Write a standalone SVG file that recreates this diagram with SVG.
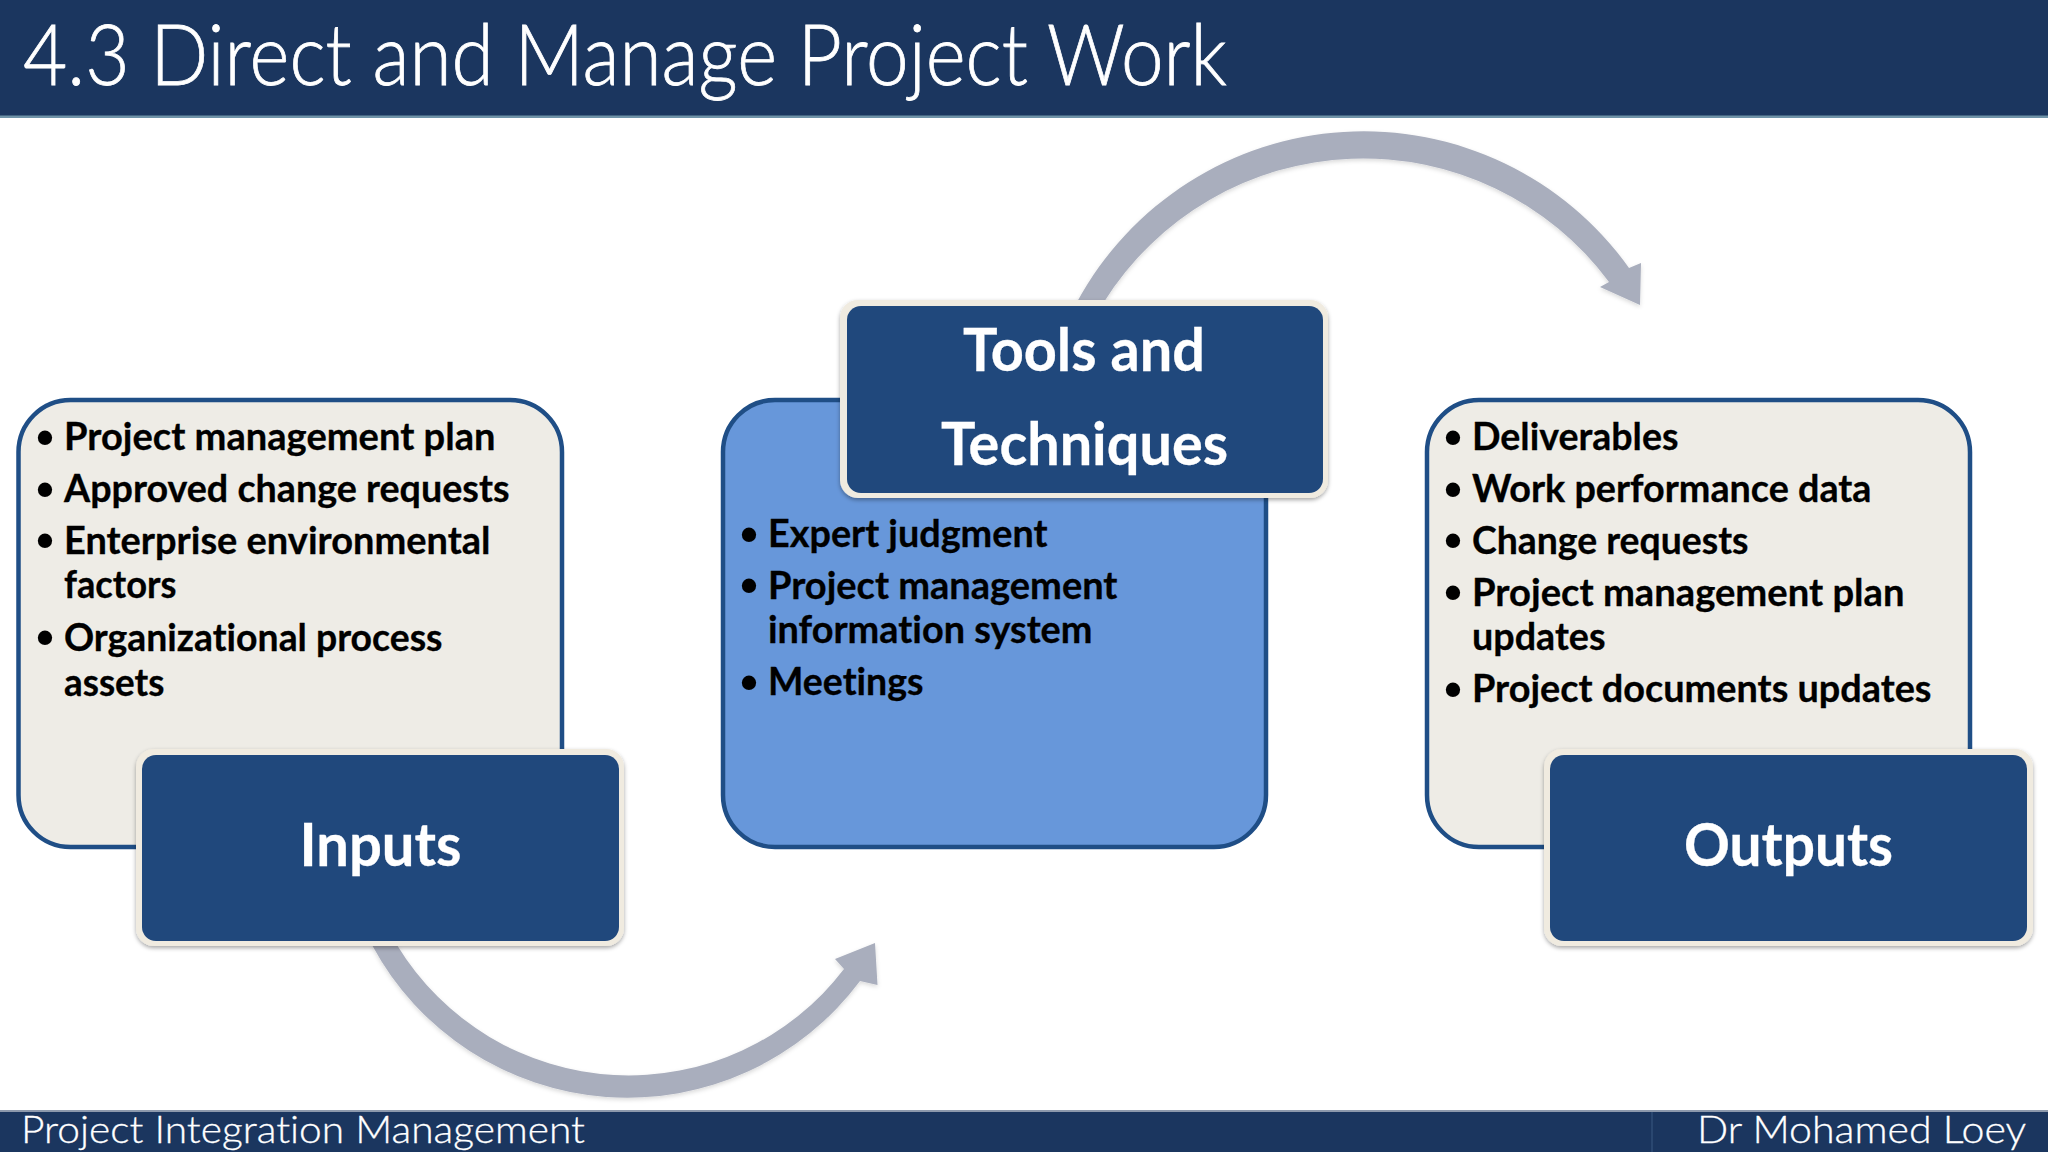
<svg xmlns="http://www.w3.org/2000/svg" width="2048" height="1152" viewBox="0 0 2048 1152">
<style>
text{font-family:"Lato","Carlito","Open Sans",sans-serif;font-variant-ligatures:none}
.bar{fill:#1b365f}
.t{font-weight:700;font-size:38px;fill:#000;stroke:#000;stroke-width:.3}
.b{font-family:"Liberation Sans",sans-serif;font-weight:700;font-size:50px;fill:#000;text-anchor:middle}
.h{font-weight:700;font-size:60px;fill:#fff;stroke:#fff;stroke-width:.3}
.f{font-weight:300;font-size:38px;fill:#fff;stroke:#fff;stroke-width:.3}
.soft{fill:#eeece6;stroke:#1f4e86;stroke-width:4.5}
.blue{fill:#6797da;stroke:#1f4e86;stroke-width:4.5}
.frame{fill:#f0ebe0;filter:url(#sh)}
.head{fill:#20487c}
.arrow{fill:#a9aebd;filter:url(#sh2)}
</style>
<defs>
<filter id="sh" x="-5%" y="-5%" width="110%" height="115%"><feDropShadow dx="0" dy="2" stdDeviation="2" flood-color="#000" flood-opacity="0.35"/></filter>
<filter id="sh2" x="-5%" y="-5%" width="110%" height="110%"><feDropShadow dx="0" dy="2" stdDeviation="2" flood-color="#000" flood-opacity="0.15"/></filter>
</defs>
<rect width="2048" height="1152" fill="#fff"/>
<g id="header">
<rect class="bar" width="2048" height="117"/>
<rect y="115.500" width="2048" height="2.500" fill="#6f93a8"/>
<text x="23" y="84.500" font-size="84" font-weight="300" fill="#fff" stroke="#fff" stroke-width=".8" textLength="1204" lengthAdjust="spacingAndGlyphs">4.3 Direct and Manage Project Work</text>
</g>
<g id="connectors">
<path class="arrow" d="M1077 302A326 326 0 0 1 1629 268L1641 263L1640 305L1600 287L1609 282A306 306 0 0 0 1104 302Z"/>
<path class="arrow" d="M372 945A290 290 0 0 0 860 981L877.500 985L875 943L835 959L844 969A271 271 0 0 1 397 945Z"/>
</g>
<g id="inputs">
<rect class="soft" x="18.500" y="400" width="543.500" height="447" rx="52"/>
<text class="b" x="45" y="454">•</text><text class="t" x="64" y="449.500" textLength="431.500" lengthAdjust="spacingAndGlyphs">Project management plan</text>
<text class="b" x="45" y="505.500">•</text><text class="t" x="64" y="501.500" textLength="445.500" lengthAdjust="spacingAndGlyphs">Approved change requests</text>
<text class="b" x="45" y="557">•</text><text class="t" x="64" y="553.500" textLength="426.500" lengthAdjust="spacingAndGlyphs">Enterprise environmental</text>
<text class="t" x="64" y="598" textLength="112.500" lengthAdjust="spacingAndGlyphs">factors</text>
<text class="b" x="45" y="654">•</text><text class="t" x="64" y="650.500" textLength="378.500" lengthAdjust="spacingAndGlyphs">Organizational process</text>
<text class="t" x="64" y="695.500" textLength="100.500" lengthAdjust="spacingAndGlyphs">assets</text>
<rect class="frame" x="136" y="749" width="488" height="197" rx="18"/>
<rect class="head" x="142" y="755" width="477" height="186" rx="14"/>
<text class="h" x="299.500" y="866" textLength="162" lengthAdjust="spacingAndGlyphs">Inputs</text>
</g>
<g id="tools">
<rect class="blue" x="723" y="400" width="543" height="447" rx="52"/>
<rect class="frame" x="840" y="300" width="488" height="198" rx="18"/>
<rect class="head" x="847" y="306" width="476" height="187" rx="14"/>
<text class="h" x="963" y="370.500" textLength="242" lengthAdjust="spacingAndGlyphs">Tools and</text>
<text class="h" x="941" y="464.500" textLength="287" lengthAdjust="spacingAndGlyphs">Techniques</text>
<text class="b" x="749" y="550.500">•</text><text class="t" x="768" y="546.500" textLength="279.500" lengthAdjust="spacingAndGlyphs">Expert judgment</text>
<text class="b" x="749" y="602">•</text><text class="t" x="768" y="598.500" textLength="349.500" lengthAdjust="spacingAndGlyphs">Project management</text>
<text class="t" x="768" y="642.500" textLength="324.500" lengthAdjust="spacingAndGlyphs">information system</text>
<text class="b" x="749" y="699">•</text><text class="t" x="768" y="694.500" textLength="155.500" lengthAdjust="spacingAndGlyphs">Meetings</text>
</g>
<g id="outputs">
<rect class="soft" x="1427" y="400" width="543" height="447" rx="52"/>
<text class="b" x="1453" y="454">•</text><text class="t" x="1472" y="449.500" textLength="206.500" lengthAdjust="spacingAndGlyphs">Deliverables</text>
<text class="b" x="1453" y="505.500">•</text><text class="t" x="1472" y="501.500" textLength="399.500" lengthAdjust="spacingAndGlyphs">Work performance data</text>
<text class="b" x="1453" y="557">•</text><text class="t" x="1472" y="553.500" textLength="276.500" lengthAdjust="spacingAndGlyphs">Change requests</text>
<text class="b" x="1453" y="609">•</text><text class="t" x="1472" y="605.500" textLength="432.500" lengthAdjust="spacingAndGlyphs">Project management plan</text>
<text class="t" x="1472" y="650" textLength="133.500" lengthAdjust="spacingAndGlyphs">updates</text>
<text class="b" x="1453" y="706">•</text><text class="t" x="1472" y="702" textLength="459.500" lengthAdjust="spacingAndGlyphs">Project documents updates</text>
<rect class="frame" x="1544" y="749" width="489" height="197" rx="18"/>
<rect class="head" x="1550" y="755" width="477" height="186" rx="14"/>
<text class="h" x="1684" y="866" textLength="209" lengthAdjust="spacingAndGlyphs">Outputs</text>
</g>
<g id="footer">
<rect class="bar" y="1111" width="2048" height="41"/>
<rect y="1110" width="2048" height="2" fill="#8d99ac"/>
<rect x="1651" y="1112" width="2" height="40" fill="#2a4770"/>
<text class="f" x="21" y="1143" textLength="564" lengthAdjust="spacingAndGlyphs">Project Integration Management</text>
<text class="f" x="1697" y="1143" textLength="329" lengthAdjust="spacingAndGlyphs">Dr Mohamed Loey</text>
</g>
</svg>
